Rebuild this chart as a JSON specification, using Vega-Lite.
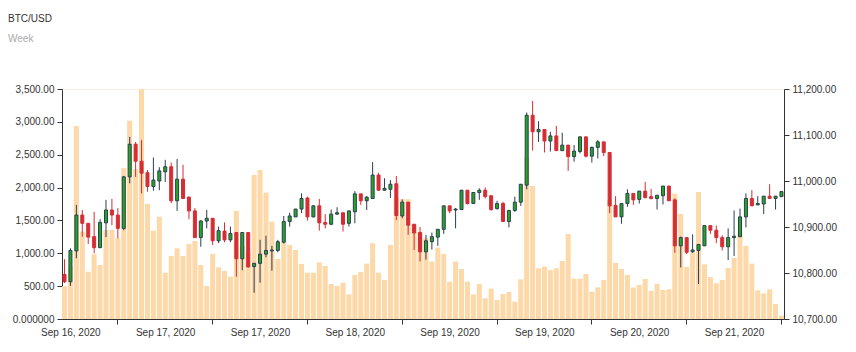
{
  "$schema": "https://vega.github.io/schema/vega-lite/v6.json",
  "width": 722,
  "height": 230,
  "autosize": "none",
  "padding": {"left": 62, "top": 89, "right": 72, "bottom": 33},
  "background": "white",
  "config": {
    "font": "Liberation Sans",
    "view": {"stroke": "#fbeee2"},
    "axis": {"labelFont": "Liberation Sans", "labelFontSize": 10, "labelColor": "#333", "domainColor": "#333", "tickColor": "#333", "grid": false, "title": null}
  },
  "title": {
    "text": "BTC/USD",
    "subtitle": "Week",
    "anchor": "start",
    "frame": "group",
    "dx": -54,
    "offset": 40,
    "fontSize": 10,
    "fontWeight": "normal",
    "color": "#333",
    "subtitleFontSize": 10,
    "subtitleColor": "#aaa",
    "subtitlePadding": 10,
    "font": "Liberation Sans",
    "subtitleFont": "Liberation Sans"
  },
  "data": {"values": [
    {"t":"2020-09-16T00:00","o":10797,"h":10830,"l":10778,"c":10781,"v":500},
    {"t":"2020-09-16T01:00","o":10781,"h":10854,"l":10772,"c":10849,"v":796},
    {"t":"2020-09-16T02:00","o":10848,"h":10948,"l":10832,"c":10926,"v":2937},
    {"t":"2020-09-16T03:00","o":10926,"h":10937,"l":10879,"c":10908,"v":1329},
    {"t":"2020-09-16T04:00","o":10908,"h":10908,"l":10863,"c":10878,"v":720},
    {"t":"2020-09-16T05:00","o":10879,"h":10933,"l":10843,"c":10855,"v":985},
    {"t":"2020-09-16T06:00","o":10855,"h":10917,"l":10855,"c":10910,"v":822},
    {"t":"2020-09-16T07:00","o":10909,"h":10959,"l":10878,"c":10937,"v":1355},
    {"t":"2020-09-16T08:00","o":10937,"h":10961,"l":10904,"c":10926,"v":1355},
    {"t":"2020-09-16T09:00","o":10926,"h":10941,"l":10875,"c":10897,"v":1228},
    {"t":"2020-09-16T10:00","o":10897,"h":11011,"l":10893,"c":11009,"v":2293},
    {"t":"2020-09-16T11:00","o":11009,"h":11096,"l":10995,"c":11080,"v":3018},
    {"t":"2020-09-16T12:00","o":11080,"h":11085,"l":11009,"c":11043,"v":2278},
    {"t":"2020-09-16T13:00","o":11043,"h":11089,"l":10973,"c":11017,"v":3500},
    {"t":"2020-09-16T14:00","o":11018,"h":11024,"l":10977,"c":10988,"v":1750},
    {"t":"2020-09-16T15:00","o":10988,"h":11051,"l":10979,"c":11002,"v":1344},
    {"t":"2020-09-16T16:00","o":11000,"h":11030,"l":10980,"c":11022,"v":1557},
    {"t":"2020-09-16T17:00","o":11020,"h":11046,"l":10998,"c":11031,"v":705},
    {"t":"2020-09-16T18:00","o":11031,"h":11040,"l":10952,"c":10957,"v":959},
    {"t":"2020-09-16T19:00","o":10957,"h":11048,"l":10935,"c":11004,"v":1075},
    {"t":"2020-09-16T20:00","o":11004,"h":11035,"l":10962,"c":10962,"v":959},
    {"t":"2020-09-16T21:00","o":10965,"h":10966,"l":10917,"c":10935,"v":1141},
    {"t":"2020-09-16T22:00","o":10935,"h":10941,"l":10877,"c":10877,"v":1187},
    {"t":"2020-09-16T23:00","o":10877,"h":10915,"l":10857,"c":10913,"v":822},
    {"t":"2020-09-17T00:00","o":10913,"h":10937,"l":10897,"c":10919,"v":502},
    {"t":"2020-09-17T01:00","o":10919,"h":10919,"l":10861,"c":10870,"v":989},
    {"t":"2020-09-17T02:00","o":10870,"h":10901,"l":10865,"c":10892,"v":786},
    {"t":"2020-09-17T03:00","o":10891,"h":10910,"l":10867,"c":10872,"v":730},
    {"t":"2020-09-17T04:00","o":10872,"h":10901,"l":10867,"c":10886,"v":644},
    {"t":"2020-09-17T05:00","o":10888,"h":10888,"l":10792,"c":10831,"v":1644},
    {"t":"2020-09-17T06:00","o":10831,"h":10888,"l":10806,"c":10888,"v":1111},
    {"t":"2020-09-17T07:00","o":10888,"h":10888,"l":10812,"c":10813,"v":1010},
    {"t":"2020-09-17T08:00","o":10814,"h":10822,"l":10757,"c":10821,"v":2192},
    {"t":"2020-09-17T09:00","o":10821,"h":10872,"l":10779,"c":10841,"v":2268},
    {"t":"2020-09-17T10:00","o":10841,"h":10881,"l":10834,"c":10849,"v":1923},
    {"t":"2020-09-17T11:00","o":10848,"h":10859,"l":10805,"c":10850,"v":1481},
    {"t":"2020-09-17T12:00","o":10849,"h":10872,"l":10845,"c":10868,"v":913},
    {"t":"2020-09-17T13:00","o":10867,"h":10924,"l":10864,"c":10912,"v":1177},
    {"t":"2020-09-17T14:00","o":10912,"h":10931,"l":10901,"c":10924,"v":1126},
    {"t":"2020-09-17T15:00","o":10922,"h":10939,"l":10922,"c":10939,"v":1050},
    {"t":"2020-09-17T16:00","o":10939,"h":10973,"l":10930,"c":10962,"v":837},
    {"t":"2020-09-17T17:00","o":10963,"h":10966,"l":10914,"c":10922,"v":705},
    {"t":"2020-09-17T18:00","o":10922,"h":10947,"l":10921,"c":10946,"v":705},
    {"t":"2020-09-17T19:00","o":10946,"h":10961,"l":10892,"c":10909,"v":862},
    {"t":"2020-09-17T20:00","o":10910,"h":10928,"l":10897,"c":10906,"v":807},
    {"t":"2020-09-17T21:00","o":10906,"h":10938,"l":10904,"c":10928,"v":533},
    {"t":"2020-09-17T22:00","o":10928,"h":10943,"l":10926,"c":10931,"v":502},
    {"t":"2020-09-17T23:00","o":10931,"h":10931,"l":10890,"c":10906,"v":553},
    {"t":"2020-09-18T00:00","o":10908,"h":10935,"l":10901,"c":10935,"v":375},
    {"t":"2020-09-18T01:00","o":10933,"h":10978,"l":10908,"c":10972,"v":670},
    {"t":"2020-09-18T02:00","o":10972,"h":10972,"l":10948,"c":10957,"v":715},
    {"t":"2020-09-18T03:00","o":10957,"h":10967,"l":10937,"c":10965,"v":842},
    {"t":"2020-09-18T04:00","o":10962,"h":11041,"l":10962,"c":11013,"v":1152},
    {"t":"2020-09-18T05:00","o":11013,"h":11018,"l":10979,"c":10980,"v":705},
    {"t":"2020-09-18T06:00","o":10980,"h":11006,"l":10979,"c":10984,"v":594},
    {"t":"2020-09-18T07:00","o":10982,"h":11002,"l":10963,"c":10993,"v":1126},
    {"t":"2020-09-18T08:00","o":10994,"h":11011,"l":10915,"c":10925,"v":1850},
    {"t":"2020-09-18T09:00","o":10924,"h":10960,"l":10919,"c":10954,"v":1822},
    {"t":"2020-09-18T10:00","o":10954,"h":10954,"l":10883,"c":10904,"v":1822},
    {"t":"2020-09-18T11:00","o":10906,"h":10906,"l":10850,"c":10887,"v":1431},
    {"t":"2020-09-18T12:00","o":10888,"h":10900,"l":10825,"c":10846,"v":1329},
    {"t":"2020-09-18T13:00","o":10846,"h":10883,"l":10829,"c":10870,"v":1228},
    {"t":"2020-09-18T14:00","o":10868,"h":10888,"l":10851,"c":10879,"v":873},
    {"t":"2020-09-18T15:00","o":10878,"h":10895,"l":10859,"c":10895,"v":1086},
    {"t":"2020-09-18T16:00","o":10895,"h":10946,"l":10885,"c":10946,"v":989},
    {"t":"2020-09-18T17:00","o":10946,"h":10946,"l":10930,"c":10935,"v":568},
    {"t":"2020-09-18T18:00","o":10937,"h":10941,"l":10897,"c":10939,"v":873},
    {"t":"2020-09-18T19:00","o":10938,"h":10980,"l":10937,"c":10980,"v":761},
    {"t":"2020-09-18T20:00","o":10980,"h":10980,"l":10949,"c":10951,"v":568},
    {"t":"2020-09-18T21:00","o":10951,"h":10975,"l":10951,"c":10975,"v":375},
    {"t":"2020-09-18T22:00","o":10975,"h":10984,"l":10959,"c":10980,"v":533},
    {"t":"2020-09-18T23:00","o":10980,"h":10986,"l":10962,"c":10966,"v":315},
    {"t":"2020-09-19T00:00","o":10968,"h":10968,"l":10935,"c":10938,"v":462},
    {"t":"2020-09-19T01:00","o":10940,"h":10957,"l":10938,"c":10951,"v":289},
    {"t":"2020-09-19T02:00","o":10951,"h":10955,"l":10912,"c":10912,"v":380},
    {"t":"2020-09-19T03:00","o":10912,"h":10936,"l":10899,"c":10936,"v":411},
    {"t":"2020-09-19T04:00","o":10936,"h":10966,"l":10933,"c":10954,"v":264},
    {"t":"2020-09-19T05:00","o":10954,"h":10993,"l":10946,"c":10993,"v":604},
    {"t":"2020-09-19T06:00","o":10991,"h":11149,"l":10982,"c":11143,"v":2455},
    {"t":"2020-09-19T07:00","o":11143,"h":11174,"l":11066,"c":11107,"v":2024},
    {"t":"2020-09-19T08:00","o":11107,"h":11130,"l":11085,"c":11112,"v":771},
    {"t":"2020-09-19T09:00","o":11112,"h":11112,"l":11062,"c":11087,"v":796},
    {"t":"2020-09-19T10:00","o":11087,"h":11107,"l":11064,"c":11098,"v":746},
    {"t":"2020-09-19T11:00","o":11098,"h":11120,"l":11066,"c":11066,"v":771},
    {"t":"2020-09-19T12:00","o":11066,"h":11105,"l":11065,"c":11078,"v":883},
    {"t":"2020-09-19T13:00","o":11078,"h":11078,"l":11022,"c":11053,"v":1294},
    {"t":"2020-09-19T14:00","o":11053,"h":11078,"l":11042,"c":11065,"v":614},
    {"t":"2020-09-19T15:00","o":11064,"h":11096,"l":11060,"c":11096,"v":614},
    {"t":"2020-09-19T16:00","o":11096,"h":11096,"l":11051,"c":11054,"v":685},
    {"t":"2020-09-19T17:00","o":11054,"h":11075,"l":11040,"c":11073,"v":416},
    {"t":"2020-09-19T18:00","o":11073,"h":11089,"l":11049,"c":11085,"v":482},
    {"t":"2020-09-19T19:00","o":11085,"h":11085,"l":11054,"c":11062,"v":594},
    {"t":"2020-09-19T20:00","o":11062,"h":11062,"l":10930,"c":10946,"v":1811},
    {"t":"2020-09-19T21:00","o":10947,"h":10967,"l":10922,"c":10922,"v":852},
    {"t":"2020-09-19T22:00","o":10922,"h":10951,"l":10907,"c":10951,"v":761},
    {"t":"2020-09-19T23:00","o":10951,"h":10982,"l":10944,"c":10973,"v":670},
    {"t":"2020-09-20T00:00","o":10973,"h":10973,"l":10948,"c":10959,"v":477},
    {"t":"2020-09-20T01:00","o":10960,"h":10978,"l":10951,"c":10978,"v":517},
    {"t":"2020-09-20T02:00","o":10978,"h":10998,"l":10962,"c":10964,"v":609},
    {"t":"2020-09-20T03:00","o":10966,"h":10983,"l":10960,"c":10962,"v":426},
    {"t":"2020-09-20T04:00","o":10962,"h":10969,"l":10938,"c":10969,"v":533},
    {"t":"2020-09-20T05:00","o":10968,"h":10989,"l":10949,"c":10989,"v":441},
    {"t":"2020-09-20T06:00","o":10989,"h":10989,"l":10957,"c":10957,"v":451},
    {"t":"2020-09-20T07:00","o":10959,"h":10962,"l":10844,"c":10859,"v":1907},
    {"t":"2020-09-20T08:00","o":10859,"h":10879,"l":10812,"c":10877,"v":1598},
    {"t":"2020-09-20T09:00","o":10877,"h":10877,"l":10841,"c":10845,"v":791},
    {"t":"2020-09-20T10:00","o":10846,"h":10884,"l":10844,"c":10850,"v":1010},
    {"t":"2020-09-20T11:00","o":10849,"h":10862,"l":10776,"c":10862,"v":1933},
    {"t":"2020-09-20T12:00","o":10859,"h":10903,"l":10859,"c":10903,"v":832},
    {"t":"2020-09-20T13:00","o":10903,"h":10903,"l":10885,"c":10893,"v":639},
    {"t":"2020-09-20T14:00","o":10893,"h":10903,"l":10865,"c":10877,"v":543},
    {"t":"2020-09-20T15:00","o":10877,"h":10882,"l":10849,"c":10857,"v":594},
    {"t":"2020-09-20T16:00","o":10857,"h":10897,"l":10828,"c":10877,"v":776},
    {"t":"2020-09-20T17:00","o":10877,"h":10936,"l":10837,"c":10880,"v":928},
    {"t":"2020-09-20T18:00","o":10879,"h":10940,"l":10878,"c":10922,"v":1304},
    {"t":"2020-09-20T19:00","o":10922,"h":10973,"l":10899,"c":10962,"v":1111},
    {"t":"2020-09-20T20:00","o":10962,"h":10980,"l":10946,"c":10946,"v":842},
    {"t":"2020-09-20T21:00","o":10948,"h":10967,"l":10948,"c":10951,"v":436},
    {"t":"2020-09-20T22:00","o":10950,"h":10967,"l":10928,"c":10967,"v":391},
    {"t":"2020-09-20T23:00","o":10967,"h":10993,"l":10962,"c":10962,"v":451},
    {"t":"2020-09-21T00:00","o":10962,"h":10967,"l":10938,"c":10967,"v":228},
    {"t":"2020-09-21T01:00","o":10966,"h":10978,"l":10966,"c":10977,"v":51}
  ]},
  "encoding": {
    "x": {
      "field": "t",
      "type": "ordinal",
      "sort": null,
      "scale": {"paddingInner": 0.15, "paddingOuter": 0},
      "axis": {
        "values": ["2020-09-16T09:00","2020-09-17T01:00","2020-09-17T17:00","2020-09-18T09:00","2020-09-19T01:00","2020-09-19T17:00","2020-09-20T09:00","2020-09-21T01:00"],
        "labelExpr": "timeFormat(toDate(datum.value), '%b %d, %Y')",
        "labelAngle": 0,
        "labelOffset": -47,
        "tickSize": 5,
        "labelPadding": 3,
        "domainColor": "#333"
      }
    }
  },
  "layer": [
    {
      "mark": {"type": "bar", "color": "#fdd8a8"},
      "encoding": {
        "y": {
          "field": "v",
          "type": "quantitative",
          "scale": {"domain": [0, 3500], "nice": false},
          "axis": {
            "orient": "left",
            "values": [0, 500, 1000, 1500, 2000, 2500, 3000, 3500],
            "labelExpr": "datum.value == 0 ? '0.000000' : format(datum.value, ',.2f')",
            "tickSize": 5,
            "labelPadding": 3
          }
        }
      }
    },
    {
      "layer": [
        {
          "mark": {"type": "rule", "strokeWidth": 1},
          "encoding": {
            "y": {
              "field": "l",
              "type": "quantitative",
              "scale": {"domain": [10700, 11200], "nice": false, "zero": false},
              "axis": {
                "orient": "right",
                "values": [10700, 10800, 10900, 11000, 11100, 11200],
                "format": ",.2f",
                "tickSize": 5,
                "labelPadding": 3
              }
            },
            "y2": {"field": "h"},
            "color": {"condition": {"test": "datum.c >= datum.o", "value": "#2c3e50"}, "value": "#d62d34"}
          }
        },
        {
          "mark": {"type": "bar", "size": 3, "strokeWidth": 1},
          "encoding": {
            "y": {"field": "o", "type": "quantitative"},
            "y2": {"field": "c"},
            "fill": {"condition": {"test": "datum.c >= datum.o", "value": "#22a822"}, "value": "#d62d34"},
            "stroke": {"condition": {"test": "datum.c >= datum.o", "value": "#2c3e50"}, "value": "#d62d34"}
          }
        }
      ]
    }
  ],
  "resolve": {"scale": {"y": "independent"}}
}
